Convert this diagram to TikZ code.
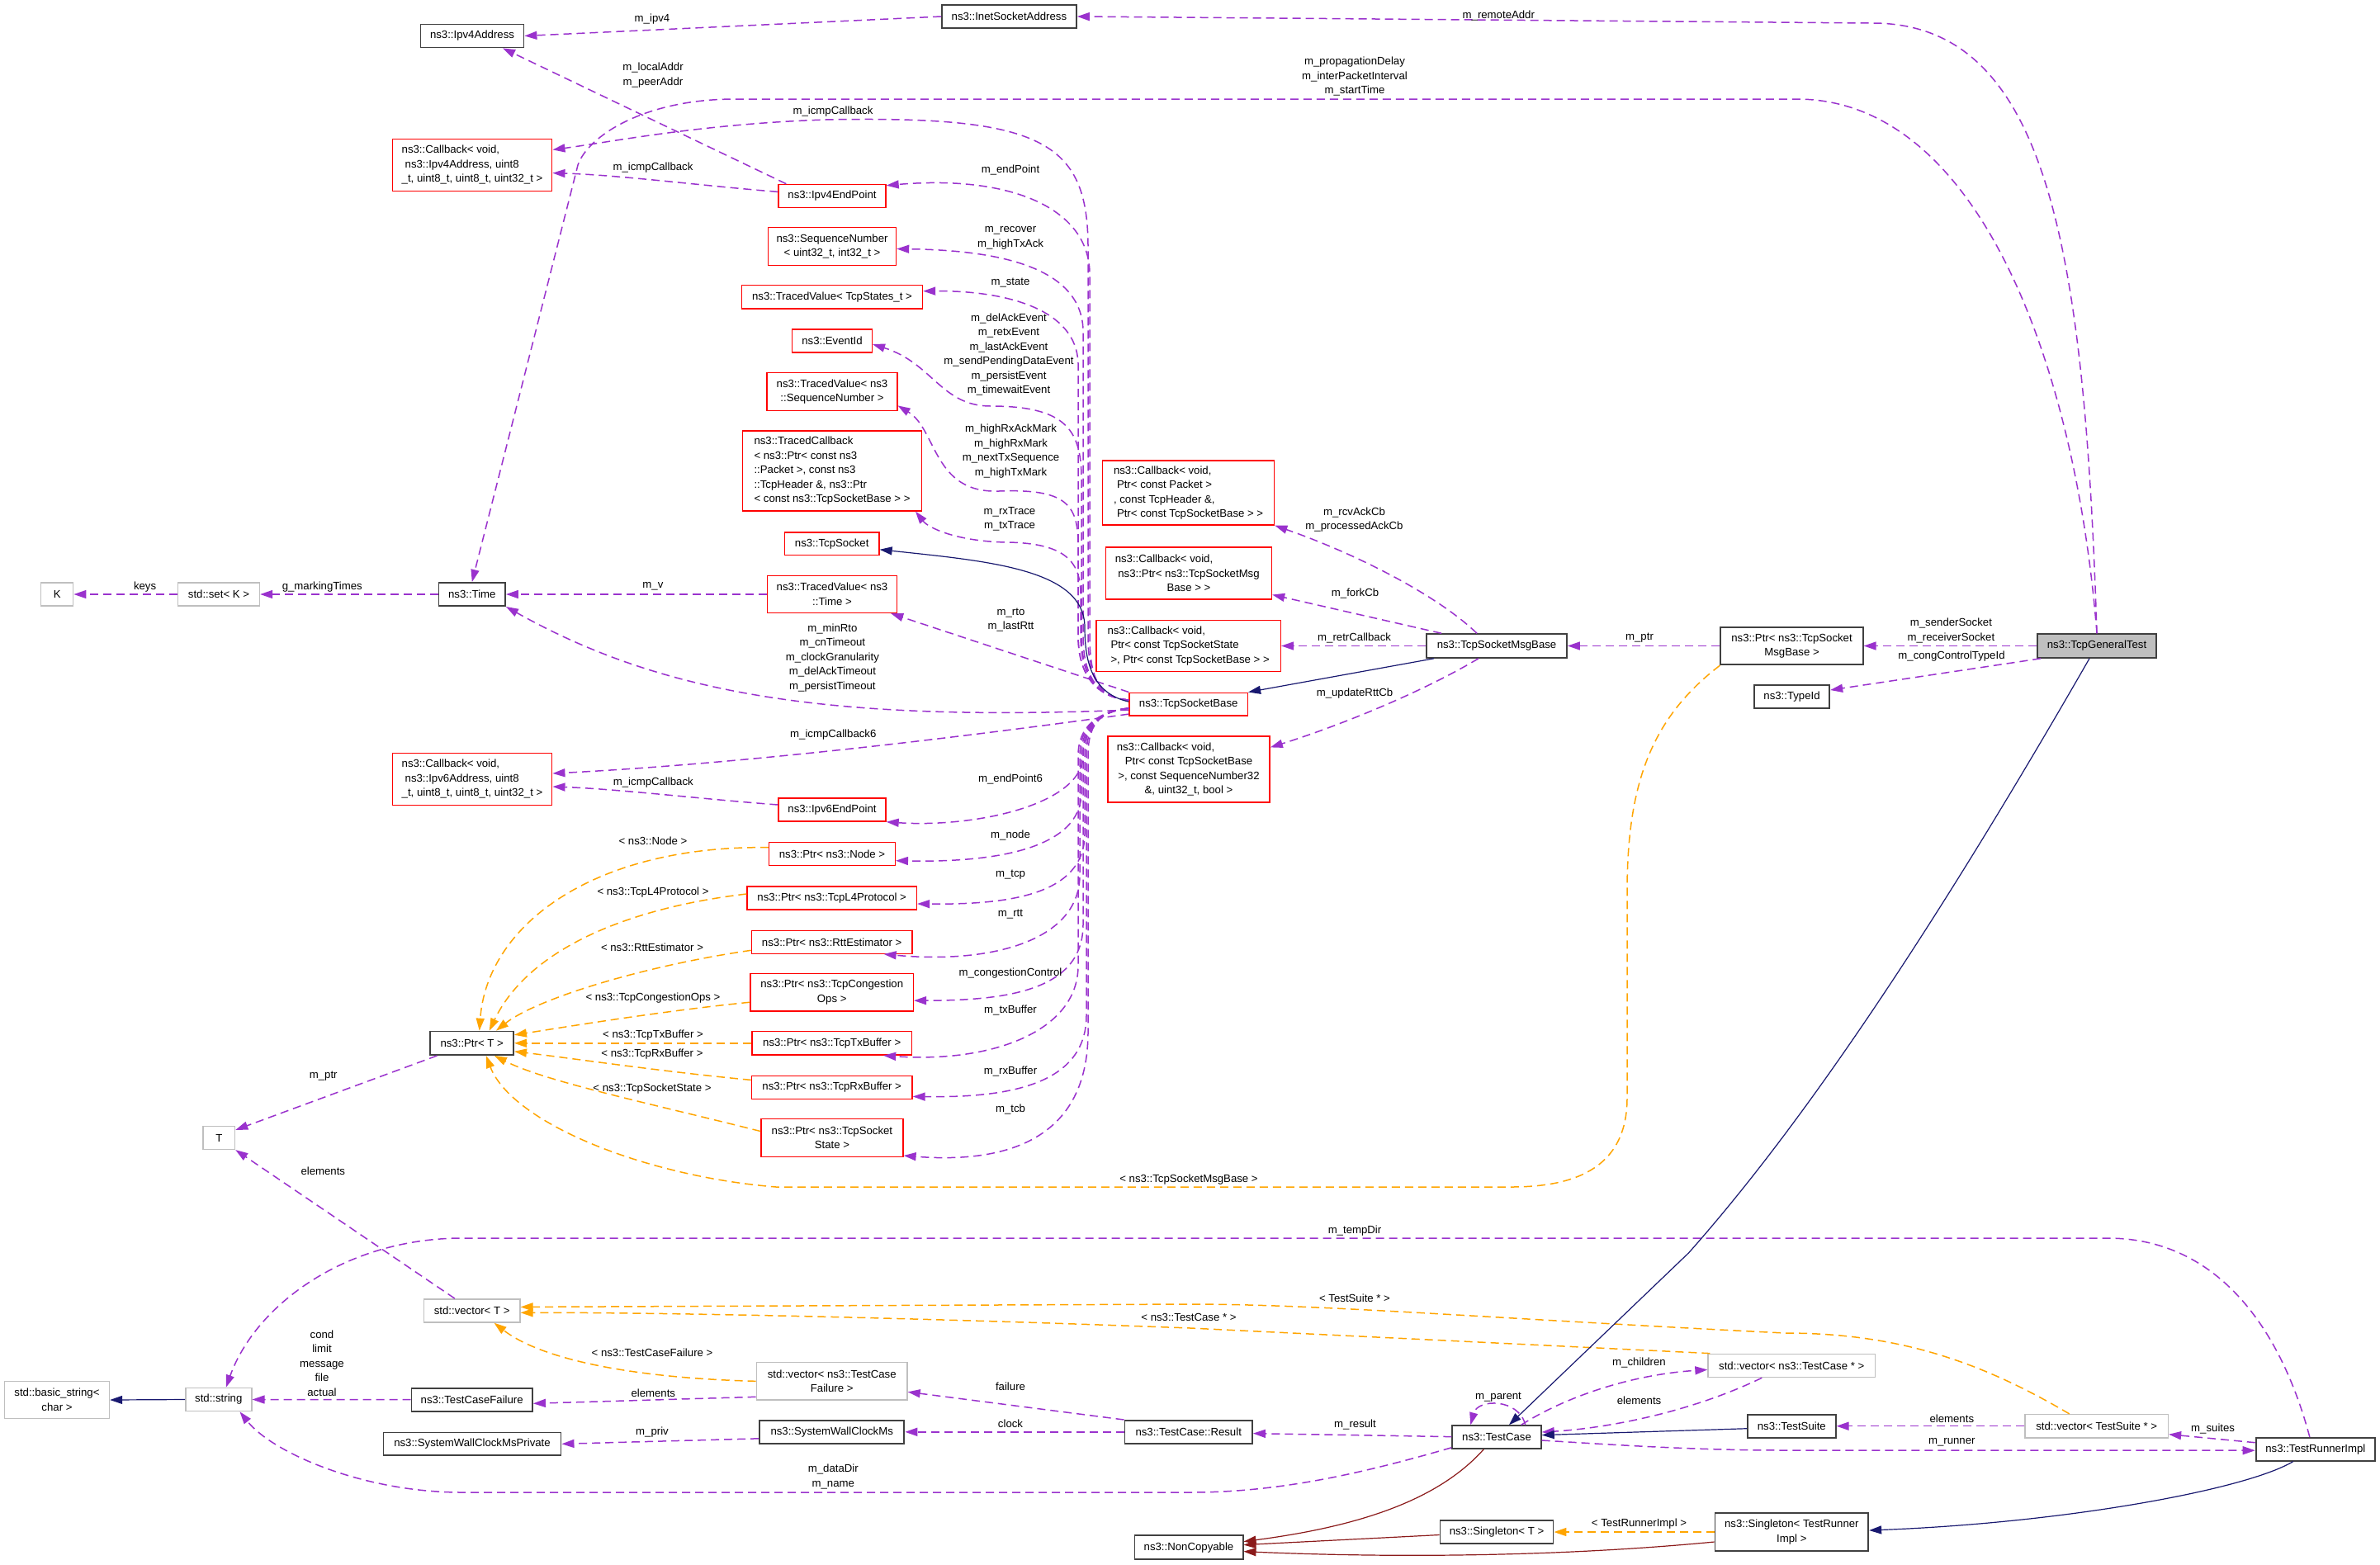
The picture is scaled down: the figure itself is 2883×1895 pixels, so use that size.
\documentclass[tikz,border=0pt]{standalone}
\usepackage{fontspec}
\setmainfont{Liberation Sans}
\usetikzlibrary{arrows.meta,calc}
\newcommand\dfont{\fontsize{6.6}{8.75}\selectfont}
\definecolor{usec}{HTML}{9A32CD}
\definecolor{tmplc}{HTML}{FFA500}
\definecolor{inhc}{HTML}{191970}
\definecolor{privc}{HTML}{8B1A1A}
\definecolor{bordk}{HTML}{404040}
\definecolor{bordg}{HTML}{BFBFBF}
\tikzset{
  nd/.style={draw, fill=white, inner sep=0pt, font=\dfont, align=center},
  bxk/.style={nd, draw=bordk, line width=0.9pt},
  bxr/.style={nd, draw=red, line width=0.7pt},
  bxg/.style={nd, draw=bordg, line width=0.7pt},
  wh/.style 2 args={minimum width={#1*0.5pt}, minimum height={#2*0.5pt}},
  lbl/.style={font=\dfont, inner sep=0pt, align=center},
  tipA/.style={-{Triangle[length=7.5pt,width=5pt]}},
  usel/.style={draw=usec, line width=0.75pt, dash pattern=on 5pt off 3pt, tipA},
  tmpl/.style={draw=tmplc, line width=0.75pt, dash pattern=on 5pt off 3pt, tipA},
  inhl/.style={draw=inhc, line width=0.6pt, tipA},
  privl/.style={draw=privc, line width=0.6pt, tipA},
}
\begin{document}
\begin{tikzpicture}[x=0.5pt,y=-0.5pt]
\useasboundingbox (0,0) rectangle (2883,1895);
\fill[white] (0,0) rectangle (2883,1895);

% ---------- nodes ----------
\node[bxk, wh={125}{28}] (ipv4addr) at (572,43.5) {ns3::Ipv4Address};
\node[bxr, wh={193.5}{63}, align=left] (cbipv4) at (572,200) {ns3::Callback< void,\\\hspace*{2pt}ns3::Ipv4Address, uint8\\\_t, uint8\_t, uint8\_t, uint32\_t >};
\node[bxk, wh={163}{28.7}] (inetsock) at (1222.4,20) {ns3::InetSocketAddress};
\node[bxr, wh={130}{28}] (ipv4ep) at (1008,237.4) {ns3::Ipv4EndPoint};
\node[bxr, wh={155}{45.5}] (seqnum) at (1008,298.5) {ns3::SequenceNumber\\< uint32\_t, int32\_t >};
\node[bxr, wh={219}{28.6}] (tvstates) at (1008,359.7) {ns3::TracedValue< TcpStates\_t >};
\node[bxr, wh={96.6}{28.2}] (eventid) at (1008,413) {ns3::EventId};
\node[bxr, wh={157.7}{46}] (tvseq) at (1008,474.4) {ns3::TracedValue< ns3\\::SequenceNumber >};
\node[bxr, wh={216.6}{97}, align=left] (tcbk) at (1008,570.4) {ns3::TracedCallback\\< ns3::Ptr< const ns3\\::Packet >, const ns3\\::TcpHeader \&, ns3::Ptr\\< const ns3::TcpSocketBase > >};
\node[bxr, wh={114.5}{27.8}] (tcpsocket) at (1007.7,658.8) {ns3::TcpSocket};
\node[bxr, wh={157}{45}] (tvtime) at (1008,720) {ns3::TracedValue< ns3\\::Time >};
\node[bxk, wh={80.5}{28.2}] (time) at (571.8,720) {ns3::Time};
\node[bxg, wh={98.9}{28.2}] (setk) at (265,720) {std::set< K >};
\node[bxg, wh={39}{28.2}] (K) at (69.2,720) {K};
\node[bxr, wh={193.5}{63}, align=left] (cbipv6) at (572,944) {ns3::Callback< void,\\\hspace*{2pt}ns3::Ipv6Address, uint8\\\_t, uint8\_t, uint8\_t, uint32\_t >};
\node[bxr, wh={130}{28}] (ipv6ep) at (1008,981) {ns3::Ipv6EndPoint};
\node[bxr, wh={152.6}{28}] (ptrnode) at (1008,1034.7) {ns3::Ptr< ns3::Node >};
\node[bxr, wh={205.4}{28.2}] (ptrl4) at (1007.7,1088) {ns3::Ptr< ns3::TcpL4Protocol >};
\node[bxr, wh={194.5}{27.8}] (ptrrtt) at (1007.7,1141.3) {ns3::Ptr< ns3::RttEstimator >};
\node[bxr, wh={197.3}{45.6}] (ptrcong) at (1007.7,1202.2) {ns3::Ptr< ns3::TcpCongestion\\Ops >};
\node[bxr, wh={193.6}{28.5}] (ptrtx) at (1007.7,1263.8) {ns3::Ptr< ns3::TcpTxBuffer >};
\node[bxr, wh={194.5}{28.2}] (ptrrx) at (1007.7,1317.4) {ns3::Ptr< ns3::TcpRxBuffer >};
\node[bxr, wh={172}{45.6}] (ptrstate) at (1007.9,1378.5) {ns3::Ptr< ns3::TcpSocket\\State >};
\node[bxk, wh={100.7}{28.5}] (ptrT) at (571.7,1263.8) {ns3::Ptr< T >};
\node[bxg, wh={38.6}{27.8}] (T) at (265.3,1378.5) {T};
\node[bxg, wh={116.3}{28.2}] (vecT) at (571.7,1587.9) {std::vector< T >};
\node[bxg, wh={80}{28.2}] (string) at (264.8,1695.5) {std::string};
\node[bxg, wh={127}{45.2}] (basicstr) at (69,1696) {std::basic\_string<\\char >};
\node[bxk, wh={146.6}{27.8}] (tcf) at (571.7,1695.7) {ns3::TestCaseFailure};
\node[bxk, wh={215.1}{27.8}] (swcmp) at (572,1749.3) {ns3::SystemWallClockMsPrivate};
\node[bxg, wh={182.6}{45.2}] (vectcf) at (1007.7,1673.3) {std::vector< ns3::TestCase\\Failure >};
\node[bxk, wh={175.3}{27.8}] (swcm) at (1007.7,1734.8) {ns3::SystemWallClockMs};
\node[bxk, wh={154.6}{27.8}] (result) at (1439.7,1734.8) {ns3::TestCase::Result};
\node[bxk, wh={131.2}{28.6}] (noncopy) at (1440,1874.6) {ns3::NonCopyable};
\node[bxr, wh={208}{78}, align=left] (cbpkt) at (1439.6,597) {ns3::Callback< void,\\\hspace*{2pt}Ptr< const Packet >\\, const TcpHeader \&,\\\hspace*{2pt}Ptr< const TcpSocketBase > >};
\node[bxr, wh={201}{63}] (cbmsg) at (1440,694.5) {ns3::Callback< void,\hspace*{30pt}\\ns3::Ptr< ns3::TcpSocketMsg\\Base > >};
\node[bxr, wh={223.5}{62.5}, align=left] (cbstate) at (1439.6,782.5) {ns3::Callback< void,\\\hspace*{2pt}Ptr< const TcpSocketState\\\hspace*{2pt}>, Ptr< const TcpSocketBase > >};
\node[bxr, wh={143.4}{27.8}] (tsb) at (1439.7,853.1) {ns3::TcpSocketBase};
\node[bxr, wh={196.3}{79.8}] (cbrtt) at (1440,932) {ns3::Callback< void,\hspace*{28pt}\\Ptr< const TcpSocketBase\\>, const SequenceNumber32\\\&, uint32\_t, bool >};
\node[bxk, wh={170}{28.7}] (tsmb) at (1813,782.5) {ns3::TcpSocketMsgBase};
\node[bxk, wh={172.4}{45.5}] (ptrtsmb) at (2170.5,782.5) {ns3::Ptr< ns3::TcpSocket\\MsgBase >};
\node[bxk, wh={91.5}{28}] (typeid) at (2170.5,844) {ns3::TypeId};
\node[bxk, fill=bordg, wh={144}{28.7}] (tgt) at (2540,782.5) {ns3::TcpGeneralTest};
\node[bxk, wh={107.6}{27.7}] (testcase) at (1813,1741) {ns3::TestCase};
\node[bxg, wh={202.4}{28.2}] (vectc) at (2170.2,1654.4) {std::vector< ns3::TestCase * >};
\node[bxk, wh={106.6}{28.2}] (testsuite) at (2170.3,1727.7) {ns3::TestSuite};
\node[bxg, wh={173.4}{28.2}] (vects) at (2539.7,1727.7) {std::vector< TestSuite * >};
\node[bxk, wh={144.4}{27.9}] (runner) at (2804.8,1755.7) {ns3::TestRunnerImpl};
\node[bxk, wh={137}{27.8}] (singT) at (1813,1856) {ns3::Singleton< T >};
\node[bxk, wh={185.8}{45.6}] (singR) at (2170.3,1856) {ns3::Singleton< TestRunner\\Impl >};

% ---------- edges ----------
\draw[usel] (inetsock.west) -- (ipv4addr.east);
\draw[usel] (tgt.north) .. controls (2525,300) and (2480,28) .. (2268,28) -- (inetsock.east);
\draw[usel] (tgt.north) .. controls (2515,450) and (2400,120) .. (2176,120) -- (891,120) .. controls (780,120) and (712,165) .. (700,200) -- (time.north);
\draw[usel] ($(ipv4ep.north west)+(10,0)$) -- ($(ipv4addr.south)+(37,0)$);
\draw[usel] ($(ipv4ep.west)+(0,-5)$) .. controls (850,225) and (750,212) .. ($(cbipv4.east)+(0,9.6)$);

% TcpSocketBase upper members
\draw[usel] ($(tsb.west)+(0,-5)$) .. controls (1330,845) and (1318,820) .. (1318,770) -- (1318,300) .. controls (1318,170) and (1260,140) .. (1000,145) .. controls (850,150) and (740,172) .. ($(cbipv4.east)+(0,-18.6)$);
\draw[usel] ($(tsb.west)+(0,-5)$) .. controls (1330,845) and (1320,820) .. (1320,770) -- (1320,330) .. controls (1318,250) and (1220,212) .. ($(ipv4ep.north east)+(0,2)$);
\draw[usel] ($(tsb.west)+(0,-5)$) .. controls (1330,845) and (1312,820) .. (1312,770) -- (1312,400) .. controls (1310,320) and (1200,303) .. ($(seqnum.east)+(0,3)$);
\draw[usel] ($(tsb.west)+(0,-5)$) .. controls (1330,845) and (1306,820) .. (1306,770) -- (1306,440) .. controls (1304,375) and (1220,352) .. ($(tvstates.east)+(0,-7)$);
\draw[usel] ($(tsb.west)+(0,-5)$) .. controls (1330,845) and (1310,820) .. (1310,770) -- (1310,580) .. controls (1310,520) and (1290,492) .. (1200,492) .. controls (1140,492) and (1130,440) .. ($(eventid.east)+(0,4)$);
\draw[usel] ($(tsb.west)+(0,-5)$) .. controls (1330,845) and (1306,820) .. (1306,770) -- (1306,660) .. controls (1306,610) and (1290,592) .. (1210,595) .. controls (1130,598) and (1135,520) .. ($(tvseq.east)+(0,17)$);
\draw[usel] ($(tsb.west)+(0,-5)$) .. controls (1330,845) and (1309,820) .. (1309,770) -- (1309,720) .. controls (1309,680) and (1290,658) .. (1220,657) .. controls (1160,656) and (1125,640) .. ($(tcbk.south east)+(-8,0)$);
\draw[usel] (tsb.north west) -- ($(tvtime.south east)+(-8,0)$);
\draw[usel] ($(tsb.west)+(0,7)$) .. controls (1000,875) and (800,840) .. (time.south east);
\draw[inhl] ($(tsb.west)+(0,-3)$) .. controls (1322,840) and (1314,800) .. (1314,760) .. controls (1314,690) and (1200,680) .. ($(tcpsocket.east)+(0,7)$);
\draw[usel] ($(tsb.west)+(0,12)$) .. controls (1150,895) and (900,925) .. ($(cbipv6.east)+(0,-7)$);
\draw[usel] ($(ipv6ep.west)+(0,-6)$) .. controls (850,968) and (750,956) .. ($(cbipv6.east)+(0,9)$);

% TcpSocketBase lower members
\draw[usel] ($(tsb.west)+(0,5)$) .. controls (1330,862) and (1312,880) .. (1312,915) .. controls (1312,975) and (1180,1003) .. (ipv6ep.south east);
\draw[usel] ($(tsb.west)+(0,5)$) .. controls (1330,862) and (1310,880) .. (1310,915) -- (1310,960) .. controls (1310,1030) and (1200,1045) .. ($(ptrnode.east)+(0,8)$);
\draw[usel] ($(tsb.west)+(0,5)$) .. controls (1330,862) and (1314,880) .. (1314,915) -- (1314,1010) .. controls (1314,1085) and (1220,1096) .. ($(ptrl4.east)+(0,7)$);
\draw[usel] ($(tsb.west)+(0,5)$) .. controls (1330,862) and (1308,880) .. (1308,915) -- (1308,1060) .. controls (1308,1140) and (1200,1168) .. ($(ptrrtt.south east)+(-35,0)$);
\draw[usel] ($(tsb.west)+(0,5)$) .. controls (1330,862) and (1312,880) .. (1312,915) -- (1312,1120) .. controls (1312,1200) and (1220,1212) .. ($(ptrcong.east)+(0,10)$);
\draw[usel] ($(tsb.west)+(0,5)$) .. controls (1330,862) and (1306,880) .. (1306,915) -- (1306,1170) .. controls (1306,1250) and (1200,1288) .. ($(ptrtx.south east)+(-35,0)$);
\draw[usel] ($(tsb.west)+(0,5)$) .. controls (1330,862) and (1316,880) .. (1316,915) -- (1316,1230) .. controls (1316,1315) and (1220,1330) .. ($(ptrrx.east)+(0,11)$);
\draw[usel] ($(tsb.west)+(0,5)$) .. controls (1330,862) and (1318,880) .. (1318,915) -- (1318,1250) .. controls (1318,1380) and (1220,1410) .. ($(ptrstate.south east)+(0,-2)$);

% TcpSocketMsgBase
\draw[usel] ($(tsmb.north)+(-24,0)$) .. controls (1740,720) and (1640,670) .. (cbpkt.south east);
\draw[usel] ($(tsmb.north west)+(19,0)$) -- ($(cbmsg.east)+(0,26)$);
\draw[usel] (tsmb.west) -- (cbstate.east);
\draw[inhl] ($(tsmb.south west)+(10,0)$) -- (tsb.north east);
\draw[usel] ($(tsmb.south)+(-22,0)$) .. controls (1720,840) and (1620,880) .. ($(cbrtt.north east)+(0,14)$);
\draw[usel] (ptrtsmb.west) -- (tsmb.east);
\draw[usel] (tgt.west) -- (ptrtsmb.east);
\draw[usel] ($(tgt.south west)+(5,0)$) -- ($(typeid.east)+(0,-8)$);

% templates to Ptr<T>
\draw[tmpl] (ptrtsmb.south west) .. controls (2000,870) and (1971,950) .. (1971,1080) -- (1971,1330) .. controls (1971,1420) and (1900,1438) .. (1830,1438) -- (940,1438) .. controls (780,1425) and (620,1360) .. ($(ptrT.south)+(17,0)$);
\draw[tmpl] ($(ptrnode.west)+(0,-8)$) .. controls (720,1024) and (590,1120) .. ($(ptrT.north)+(9,0)$);
\draw[tmpl] ($(ptrl4.west)+(0,-5)$) .. controls (760,1100) and (640,1150) .. ($(ptrT.north)+(21,0)$);
\draw[tmpl] ($(ptrrtt.west)+(0,10)$) .. controls (780,1170) and (650,1210) .. ($(ptrT.north east)+(-22,0)$);
\draw[tmpl] ($(ptrcong.west)+(0,12)$) .. controls (800,1225) and (680,1245) .. ($(ptrT.east)+(0,-10)$);
\draw[tmpl] (ptrtx.west) -- (ptrT.east);
\draw[tmpl] ($(ptrrx.west)+(0,-9)$) .. controls (800,1298) and (700,1283) .. ($(ptrT.east)+(0,10)$);
\draw[tmpl] ($(ptrstate.west)+(0,-8)$) .. controls (780,1335) and (660,1310) .. ($(ptrT.south east)+(-24,0)$);
\draw[usel] ($(ptrT.south west)+(9,0)$) -- ($(T.north east)+(0,5)$);
\draw[usel] ($(vecT.north west)+(38,0)$) -- (T.south east);

% templates to vector<T>
\draw[tmpl] ($(vects.north)+(-33,0)$) .. controls (2400,1650) and (2300,1615) .. (2162,1615) .. controls (1800,1597) and (1600,1580) .. (1442,1580) -- ($(vecT.east)+(0,-4.5)$);
\draw[tmpl] ($(vectc.north west)+(3,0)$) -- (1442,1609) .. controls (1100,1596) and (800,1590) .. ($(vecT.east)+(0,2.4)$);
\draw[tmpl] (vectcf.west) .. controls (780,1670) and (660,1650) .. ($(vecT.south east)+(-32,0)$);

% test framework
\draw[usel] ($(vectcf.west)+(0,19)$) -- ($(tcf.east)+(0,4.6)$);
\draw[usel] (tcf.west) -- (string.east);
\draw[inhl] (string.west) -- (basicstr.east);
\draw[usel] ($(swcm.west)+(0,8)$) -- (swcmp.east);
\draw[usel] (result.west) -- (swcm.east);
\draw[usel] (result.north west) -- ($(vectcf.east)+(0,13)$);
\draw[usel] ($(testcase.west)+(0,-0.4)$) -- ($(result.east)+(0,1.8)$);
\draw[usel] ($(testcase.south west)+(0,-2)$) .. controls (1650,1785) and (1550,1808) .. (1442,1808) -- (560,1808) .. controls (440,1808) and (330,1760) .. ($(string.south east)+(-15,0)$);
\draw[usel] ($(runner.north)+(-7,0)$) .. controls (2760,1600) and (2680,1500) .. (2553,1500) -- (560,1500) .. controls (420,1500) and (310,1580) .. ($(string.north)+(9,0)$);
\draw[usel] ($(testcase.north east)+(-20,0)$) .. controls (1840,1694) and (1790,1694) .. ($(testcase.north west)+(23,0)$);
\draw[usel] ($(testcase.north east)+(-25,0)$) .. controls (1900,1690) and (1980,1665) .. ($(vectc.west)+(0,5)$);
\draw[usel] ($(vectc.south west)+(66,0)$) .. controls (2050,1710) and (1950,1730) .. ($(testcase.east)+(0,-6)$);
\draw[inhl] ($(testsuite.west)+(0,3)$) -- ($(testcase.east)+(0,-2.4)$);
\draw[usel] ($(testcase.east)+(0,4)$) .. controls (1950,1750) and (2050,1757) .. (2162,1757) -- ($(runner.west)+(0,1.5)$);
\draw[usel] (vects.west) -- (testsuite.east);
\draw[usel] ($(runner.west)+(0,-8)$) -- ($(vects.east)+(0,10)$);
\draw[inhl] ($(tgt.south)+(-9,0)$) .. controls (2300,1200) and (2150,1400) .. (2045.7,1517.7) -- ($(testcase.north)+(15,0)$);
\draw[privl] ($(testcase.south west)+(39,0)$) .. controls (1740,1820) and (1640,1850) .. ($(noncopy.east)+(0,-7)$);
\draw[privl] ($(singT.west)+(0,3.5)$) -- ($(noncopy.east)+(0,-3)$);
\draw[privl] ($(singR.west)+(0,12)$) .. controls (1900,1885) and (1700,1888) .. ($(noncopy.east)+(0,5)$);
\draw[tmpl] (singR.west) -- (singT.east);
\draw[inhl] ($(runner.south)+(-27,0)$) .. controls (2720,1805) and (2500,1845) .. ($(singR.east)+(0,-2)$);
\draw[usel] (setk.west) -- (K.east);
\draw[usel] (time.west) -- (setk.east);
\draw[usel] (tvtime.west) -- (time.east);

% ---------- labels ----------
\node[lbl] (L1) at (790,23.4) {m\_ipv4};
\node[lbl] (L2) at (1815.3,19.3) {m\_remoteAddr};
\node[lbl] (L3) at (1641,92.7) {m\_propagationDelay\\m\_interPacketInterval\\m\_startTime};
\node[lbl] (L4) at (791,91) {m\_localAddr\\m\_peerAddr};
\node[lbl] (L5) at (1009,135.4) {m\_icmpCallback};
\node[lbl] (L6) at (791,203.5) {m\_icmpCallback};
\node[lbl] (L7) at (1224,206.4) {m\_endPoint};
\node[lbl] (L8) at (1224,288.2) {m\_recover\\m\_highTxAck};
\node[lbl] (L9) at (1224,342.6) {m\_state};
\node[lbl] (L10) at (1222,429.5) {m\_delAckEvent\\m\_retxEvent\\m\_lastAckEvent\\m\_sendPendingDataEvent\\m\_persistEvent\\m\_timewaitEvent};
\node[lbl] (L11) at (1224.5,546.4) {m\_highRxAckMark\\m\_highRxMark\\m\_nextTxSequence\\m\_highTxMark};
\node[lbl] (L12) at (1223,629) {m\_rxTrace\\m\_txTrace};
\node[lbl] (L13) at (1224.5,751) {m\_rto\\m\_lastRtt};
\node[lbl] (L14) at (1008.4,797) {m\_minRto\\m\_cnTimeout\\m\_clockGranularity\\m\_delAckTimeout\\m\_persistTimeout};
\node[lbl] (L15) at (790.9,710.6) {m\_v};
\node[lbl] (L16) at (175.6,710.6) {keys};
\node[lbl] (L17) at (390.3,710.6) {g\_markingTimes};
\node[lbl] (L18) at (1009.3,890.4) {m\_icmpCallback6};
\node[lbl] (L19) at (791.3,947.6) {m\_icmpCallback};
\node[lbl] (L20) at (1224,944.4) {m\_endPoint6};
\node[lbl] (L21) at (1224,1012.5) {m\_node};
\node[lbl] (L22) at (1224,1060) {m\_tcp};
\node[lbl] (L23) at (1224,1107.6) {m\_rtt};
\node[lbl] (L24) at (1224,1178.6) {m\_congestionControl};
\node[lbl] (L25) at (1224,1224.5) {m\_txBuffer};
\node[lbl] (L26) at (1224,1298.5) {m\_rxBuffer};
\node[lbl] (L27) at (1224,1343.6) {m\_tcb};
\node[lbl] (L28) at (791,1019) {< ns3::Node >};
\node[lbl] (L29) at (791,1080.6) {< ns3::TcpL4Protocol >};
\node[lbl] (L30) at (790,1147.5) {< ns3::RttEstimator >};
\node[lbl] (L31) at (791,1208.8) {< ns3::TcpCongestionOps >};
\node[lbl] (L32) at (791,1254.3) {< ns3::TcpTxBuffer >};
\node[lbl] (L33) at (790,1277) {< ns3::TcpRxBuffer >};
\node[lbl] (L34) at (790,1318.6) {< ns3::TcpSocketState >};
\node[lbl] (L35) at (1440,1428.7) {< ns3::TcpSocketMsgBase >};
\node[lbl] (L36) at (391.7,1303.3) {m\_ptr};
\node[lbl] (L37) at (391.3,1418.6) {elements};
\node[lbl] (L38) at (1641,1490.7) {m\_tempDir};
\node[lbl] (L39) at (1641,1572.6) {< TestSuite * >};
\node[lbl] (L40) at (1440,1595.5) {< ns3::TestCase * >};
\node[lbl] (L41) at (790,1639) {< ns3::TestCaseFailure >};
\node[lbl] (L42) at (390,1651.6) {cond\\limit\\message\\file\\actual};
\node[lbl] (L43) at (791.3,1687.4) {elements};
\node[lbl] (L44) at (1224,1679.4) {failure};
\node[lbl] (L45) at (1224,1724.5) {clock};
\node[lbl] (L46) at (790,1735.4) {m\_priv};
\node[lbl] (L47) at (1009.3,1789) {m\_dataDir\\m\_name};
\node[lbl] (L48) at (1641.5,1726.5) {m\_result};
\node[lbl] (L49) at (1815,1692.7) {m\_parent};
\node[lbl] (L50) at (1985.5,1650.7) {m\_children};
\node[lbl] (L51) at (1985.5,1696.7) {elements};
\node[lbl] (L52) at (2364.3,1718.5) {elements};
\node[lbl] (L53) at (2364.3,1747.5) {m\_runner};
\node[lbl] (L54) at (2680.6,1730.6) {m\_suites};
\node[lbl] (L55) at (1985.5,1846.2) {< TestRunnerImpl >};
\node[lbl] (L56) at (1640.5,629.5) {m\_rcvAckCb\\m\_processedAckCb};
\node[lbl] (L57) at (1641.5,719.5) {m\_forkCb};
\node[lbl] (L58) at (1640.6,772.7) {m\_retrCallback};
\node[lbl] (L59) at (1641,839.6) {m\_updateRttCb};
\node[lbl] (L60) at (1986,772.7) {m\_ptr};
\node[lbl] (L61) at (2363.4,763.8) {m\_senderSocket\\m\_receiverSocket};
\node[lbl] (L62) at (2364,795.2) {m\_congControlTypeId};
\end{tikzpicture}
\end{document}
